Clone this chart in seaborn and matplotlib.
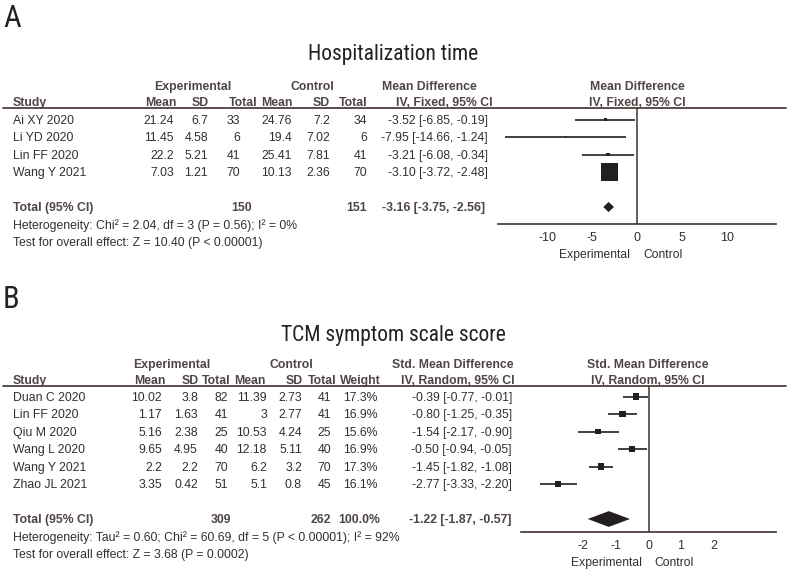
import numpy as np
import pandas as pd
import matplotlib
matplotlib.use("Agg")
import matplotlib.pyplot as plt
import seaborn as sns
from matplotlib import font_manager

# ---------------- data: panel A (Hospitalization time) ----------------
a_studies = ["Ai XY 2020", "Li YD 2020", "Lin FF 2020", "Wang Y 2021"]
a_exp_mean = [21.24, 11.45, 22.2, 7.03]
a_exp_sd = [6.7, 4.58, 5.21, 1.21]
a_exp_n = [33, 6, 41, 70]
a_ctl_mean = [24.76, 19.4, 25.41, 10.13]
a_ctl_sd = [7.2, 7.02, 7.81, 2.36]
a_ctl_n = [34, 6, 41, 70]
a_est = [-3.52, -7.95, -3.21, -3.10]
a_lo = [-6.85, -14.66, -6.08, -3.72]
a_hi = [-0.19, -1.24, -0.34, -2.48]
a_total = [-3.16, -3.75, -2.56]
a_total_n = [150, 151]
a_het = "Heterogeneity: Chi² = 2.04, df = 3 (P = 0.56); I² = 0%"
a_test = "Test for overall effect: Z = 10.40 (P < 0.00001)"
a_ticks = [-10, -5, 0, 5, 10]
a_title = "Hospitalization time"

# ---------------- data: panel B (TCM symptom scale score) ----------------
b_studies = ["Duan C 2020", "Lin FF 2020", "Qiu M 2020", "Wang L 2020", "Wang Y 2021", "Zhao JL 2021"]
b_exp_mean = [10.02, 1.17, 5.16, 9.65, 2.2, 3.35]
b_exp_sd = [3.8, 1.63, 2.38, 4.95, 2.2, 0.42]
b_exp_n = [82, 41, 25, 40, 70, 51]
b_ctl_mean = [11.39, 3, 10.53, 12.18, 6.2, 5.1]
b_ctl_sd = [2.73, 2.77, 4.24, 5.11, 3.2, 0.8]
b_ctl_n = [41, 41, 25, 40, 70, 45]
b_weight = [17.3, 16.9, 15.6, 16.9, 17.3, 16.1]
b_est = [-0.39, -0.80, -1.54, -0.50, -1.45, -2.77]
b_lo = [-0.77, -1.25, -2.17, -0.94, -1.82, -3.33]
b_hi = [-0.01, -0.35, -0.90, -0.05, -1.08, -2.20]
b_total = [-1.22, -1.87, -0.57]
b_total_n = [309, 262]
b_total_w = 100.0
b_het = "Heterogeneity: Tau² = 0.60; Chi² = 60.69, df = 5 (P < 0.00001); I² = 92%"
b_test = "Test for overall effect: Z = 3.68 (P = 0.0002)"
b_ticks = [-2, -1, 0, 1, 2]
b_title = "TCM symptom scale score"

# ---------------- style ----------------
sns.set_style("white")
plt.rcParams["font.family"] = ["Liberation Sans", "DejaVu Sans"]
plt.rcParams["axes.unicode_minus"] = False

names = {f.name for f in font_manager.fontManager.ttflist}
TFAM = ["Liberation Sans", "DejaVu Sans"]
TSIZE, LSIZE = 14, 21
for cand, ts, ls in [("Liberation Sans Narrow", 16.5, 22), ("Arial Narrow", 16.5, 22),
                     ("Roboto Condensed", 15.5, 22)]:
    if cand in names:
        TFAM = [cand, "Liberation Sans", "DejaVu Sans"]
        TSIZE, LSIZE = ts, ls
        break

HDR = "#4f4446"
TXT = "#303030"
LINE = "#3d302b"
MARK = "#231f20"
FS = 8.8

W, H = 789, 571
fig = plt.figure(figsize=(W / 100, H / 100), dpi=100)
tx = fig.add_axes([0, 0, 1, 1])
tx.set_xlim(0, W)
tx.set_ylim(H, 0)
tx.axis("off")


def T(x, y, s, ha="left", bold=False, size=FS, color=TXT, family=None):
    # y is the visual centre of the capitals, in pixels
    off = size * 1.389 * 0.716 / 2
    kw = {}
    if family is not None:
        kw["family"] = family
    tx.text(x, y + off, s, ha=ha, va="baseline", fontsize=size, color=color,
            fontweight="bold" if bold else "normal", **kw)


def fmt(v):
    return f"{v:g}"


def ci(e, l, h):
    return f"{e:.2f} [{l:.2f}, {h:.2f}]"


def fax(left, top, right, bottom):
    ax = fig.add_axes([left / W, 1 - bottom / H, (right - left) / W, (bottom - top) / H])
    ax.patch.set_visible(False)
    return ax


def forest(ax, est, lo, hi, w, total, ticks, xlim, ylim, smax, dh):
    n = len(est)
    y = np.arange(n)
    df = pd.DataFrame({"est": est, "y": y, "w": w})
    ax.axvline(0, color=LINE, lw=1.1, zorder=1)
    ax.hlines(y, lo, hi, color=MARK, lw=1.2, zorder=2)
    sns.scatterplot(data=df, x="est", y="y", size="w", sizes=(0, smax),
                    size_norm=(0, max(w)), marker="s", color=MARK,
                    edgecolor="none", linewidth=0, legend=False, ax=ax, zorder=3)
    yd = n + 1
    ax.fill([total[1], total[0], total[2], total[0]],
            [yd, yd - dh, yd, yd + dh], color=MARK, lw=0, zorder=3)
    ax.set_xlim(*xlim)
    ax.set_ylim(*ylim)
    ax.set_xticks(ticks)
    ax.set_xticklabels([str(t) for t in ticks])
    ax.set_yticks([])
    ax.set_xlabel("")
    ax.set_ylabel("")
    for side in ["left", "right", "top"]:
        ax.spines[side].set_visible(False)
    ax.spines["bottom"].set_color(LINE)
    ax.spines["bottom"].set_linewidth(1.2)
    ax.tick_params(axis="x", direction="inout", length=7, width=1.3, color=LINE,
                   labelcolor=TXT, labelsize=9, pad=2)
    ax.annotate("Experimental", xy=(0, 0), xycoords=("data", "axes fraction"),
                xytext=(-5, -22), textcoords="offset points", ha="right", va="center",
                fontsize=8.7, color=TXT)
    ax.annotate("Control", xy=(0, 0), xycoords=("data", "axes fraction"),
                xytext=(4.5, -22), textcoords="offset points", ha="left", va="center",
                fontsize=8.7, color=TXT)


# ================= Panel A =================
T(3, 16, "A", size=LSIZE, color="#222222", family=TFAM)
T(393, 52, a_title, ha="center", size=TSIZE, color="#222222", family=TFAM)

A_H1, A_H2, A_LINE, A_R0, SP = 86, 102, 108, 119.5, 17.5
T(193, A_H1, "Experimental", ha="center", bold=True, color=HDR)
T(312, A_H1, "Control", ha="center", bold=True, color=HDR)
T(429, A_H1, "Mean Difference", ha="center", bold=True, color=HDR)
T(637, A_H1, "Mean Difference", ha="center", bold=True, color=HDR)
T(13, A_H2, "Study", bold=True, color=HDR)
for xr, s in zip([177, 209, 258, 293, 330, 368, 493],
                 ["Mean", "SD", "Total", "Mean", "SD", "Total", "IV, Fixed, 95% CI"]):
    T(xr, A_H2, s, ha="right", bold=True, color=HDR)
T(637, A_H2, "IV, Fixed, 95% CI", ha="center", bold=True, color=HDR)
tx.plot([3, 786], [A_LINE, A_LINE], color=LINE, lw=1.2)

for i, st in enumerate(a_studies):
    y = A_R0 + SP * i
    T(13, y, st)
    vals = [fmt(a_exp_mean[i]), fmt(a_exp_sd[i]), str(a_exp_n[i]),
            fmt(a_ctl_mean[i]), fmt(a_ctl_sd[i]), str(a_ctl_n[i]),
            ci(a_est[i], a_lo[i], a_hi[i])]
    for xr, s in zip([174, 208, 240, 292, 330, 367, 488], vals):
        T(xr, y, s, ha="right")
yt = A_R0 + SP * (len(a_studies) + 1)
T(13, yt, "Total (95% CI)", bold=True, color=HDR)
T(252, yt, str(a_total_n[0]), ha="right", bold=True, color=HDR)
T(367, yt, str(a_total_n[1]), ha="right", bold=True, color=HDR)
T(485, yt, ci(*a_total), ha="right", bold=True, color=HDR)
T(13, yt + SP, a_het)
T(13, yt + 2 * SP, a_test)

# fixed-effect weights (inverse variance) from the CIs
a_se = (np.array(a_hi) - np.array(a_lo)) / 3.92
a_w = 1 / a_se ** 2
a_w = a_w / a_w.sum() * 100

axA = fax(498, A_LINE, 776, 224)
forest(axA, a_est, a_lo, a_hi, a_w, a_total, a_ticks, (-15.45, 15.45),
       ((224 - A_R0) / SP, (A_LINE - A_R0) / SP), smax=150, dh=0.29)

# ================= Panel B =================
T(3, 297, "B", size=LSIZE, color="#222222", family=TFAM)
T(393, 333, b_title, ha="center", size=TSIZE, color="#222222", family=TFAM)

B_H1, B_H2, B_LINE, B_R0 = 364, 380, 386, 396.5
T(172, B_H1, "Experimental", ha="center", bold=True, color=HDR)
T(291, B_H1, "Control", ha="center", bold=True, color=HDR)
T(453, B_H1, "Std. Mean Difference", ha="center", bold=True, color=HDR)
T(648, B_H1, "Std. Mean Difference", ha="center", bold=True, color=HDR)
T(13, B_H2, "Study", bold=True, color=HDR)
for xr, s in zip([166, 199, 231, 266, 303, 337, 381, 515],
                 ["Mean", "SD", "Total", "Mean", "SD", "Total", "Weight", "IV, Random, 95% CI"]):
    T(xr, B_H2, s, ha="right", bold=True, color=HDR)
T(648, B_H2, "IV, Random, 95% CI", ha="center", bold=True, color=HDR)
tx.plot([3, 786], [B_LINE, B_LINE], color=LINE, lw=1.2)

for i, st in enumerate(b_studies):
    y = B_R0 + SP * i
    T(13, y, st)
    vals = [fmt(b_exp_mean[i]), fmt(b_exp_sd[i]), str(b_exp_n[i]),
            fmt(b_ctl_mean[i]), fmt(b_ctl_sd[i]), str(b_ctl_n[i]),
            f"{b_weight[i]:.1f}%", ci(b_est[i], b_lo[i], b_hi[i])]
    for xr, s in zip([162, 198, 228, 267, 302, 331, 378, 512], vals):
        T(xr, y, s, ha="right")
yt = B_R0 + SP * (len(b_studies) + 1)
T(13, yt, "Total (95% CI)", bold=True, color=HDR)
T(231, yt, str(b_total_n[0]), ha="right", bold=True, color=HDR)
T(331, yt, str(b_total_n[1]), ha="right", bold=True, color=HDR)
T(380, yt, f"{b_total_w:.1f}%", ha="right", bold=True, color=HDR)
T(512, yt, ci(*b_total), ha="right", bold=True, color=HDR)
T(13, yt + SP, b_het)
T(13, yt + 2 * SP, b_test)

axB = fax(521, B_LINE, 776, 532)
forest(axB, b_est, b_lo, b_hi, b_weight, b_total, b_ticks, (-3.92, 3.92),
       ((532 - B_R0) / SP, (B_LINE - B_R0) / SP), smax=20, dh=0.45)

fig.savefig("out.png", dpi=100, facecolor="white")
